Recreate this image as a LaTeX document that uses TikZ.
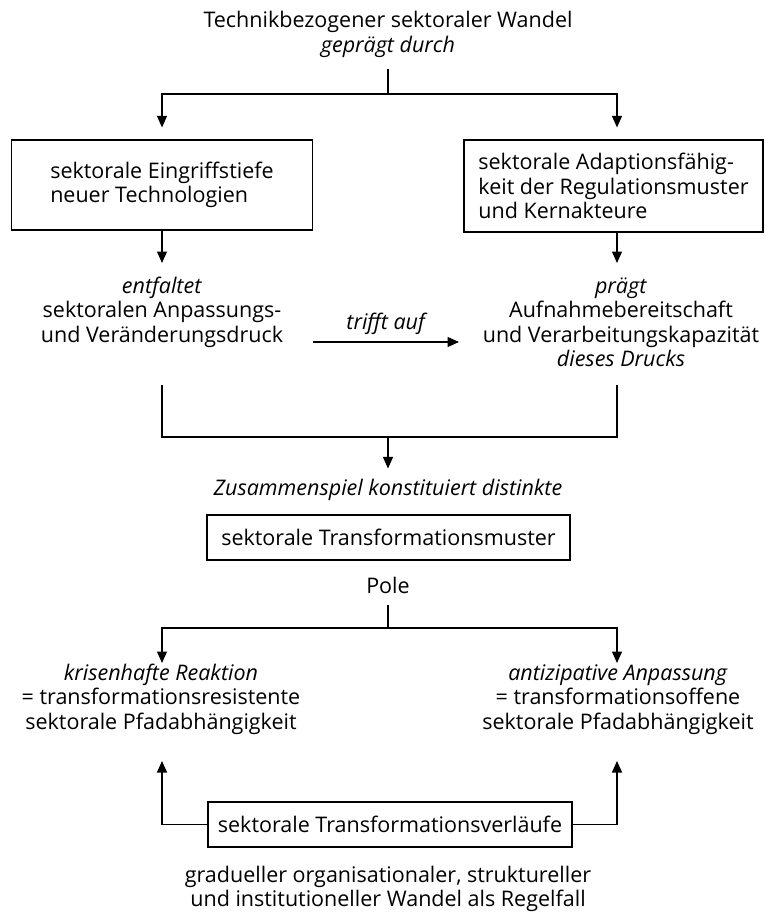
\documentclass[tikz,border=0pt]{standalone}
\usepackage{fontspec}
\setmainfont{Open Sans}
\usetikzlibrary{arrows.meta}
\tikzstyle{box} = [
  draw,
  rectangle,
  line width=1.2pt,
  inner sep=0pt,
  align=left,
]
\tikzstyle{caption} = [
  align=center,
  inner sep=0pt,
  anchor=base,
]
\tikzstyle{link} = [
  line width=1.2pt,
]

\begin{document}
\begin{tikzpicture}[
    x=1pt,
    y=-1pt,
    >={Triangle[length=11.5pt,width=10pt]},
    every node/.style={font=\fontsize{21.5}{24.5}\selectfont},
  ]
  \useasboundingbox (0,0) rectangle (765,912);
  % upper half (caption nodes sit on the baseline of their last line)
  \node[caption]
  (wandel) at (388,52.5) {Technikbezogener sektoraler Wandel\\\textit{geprägt durch}};
  \node[
    box,
    minimum width=301,
    minimum height=90,
  ](eingriff) at (162,185) {sektorale Eingriffstiefe\\neuer Technologien};
  \node[
    box,
    minimum width=299,
    minimum height=92,
  ](adaption) at (613.5,186) {sektorale Adaptionsfähig-\\keit der Regulationsmuster\\und Kernakteure};
  \node[caption]
  (entfaltet) at (162,342) {\textit{entfaltet}\\sektoralen Anpassungs-\\und Veränderungsdruck};
  \node[caption]
  (praegt) at (621,366.5) {\textit{prägt}\\Aufnahmebereitschaft\\und Verarbeitungskapazität\\\textit{dieses Drucks}};
  \node[caption]
  (trifft) at (387,329) {\textit{trifft auf}};
  \coordinate (fork) at (388,94);
  \coordinate (entfaltetTop) at (162,263);
  \coordinate (praegtTop) at (617,263);
  \coordinate (trifftA) at (313,342);
  \coordinate (trifftB) at (459,342);
  \coordinate (entfaltetFoot) at (162,385);
  \coordinate (praegtFoot) at (617,385);
  \coordinate (treffen) at (388,437);
  % lower half
  \node[caption]
  (zusammen) at (388,495) {\textit{Zusammenspiel konstituiert distinkte}};
  \node[
    box,
    minimum width=363,
    minimum height=45,
  ](muster) at (388.5,537.5) {sektorale Transformationsmuster};
  \node[caption]
  (pole) at (388,593) {Pole};
  \node[caption]
  (krise) at (161,729) {\textit{krisenhafte Reaktion}\\= transformationsresistente\\sektorale Pfadabhängigkeit};
  \node[caption]
  (antizip) at (618,729) {\textit{antizipative Anpassung}\\= transformationsoffene\\sektorale Pfadabhängigkeit};
  \node[
    box,
    minimum width=364,
    minimum height=45,
  ](verlauf) at (390,824.5) {sektorale Transformationsverläufe};
  \node[caption]
  (regelfall) at (388,906.5) {gradueller organisationaler, struktureller\\und institutioneller Wandel als Regelfall};
  \coordinate (polfork) at (388,628);
  \coordinate (kriseTop) at (162,663);
  \coordinate (antizipTop) at (617,663);
  \coordinate (kriseFoot) at (162,761);
  \coordinate (antizipFoot) at (617,761);
  % connectors
  \draw[link,shorten <=11pt] (wandel.south) -- (fork);
  \draw[link,->,shorten >=12pt] (fork) -| (eingriff.north);
  \draw[link,->,shorten >=12pt] (fork) -| (praegtTop |- adaption.north);
  \draw[link,->] (eingriff) -- (entfaltetTop);
  \draw[link,->] (adaption.south -| praegtTop) -- (praegtTop);
  \draw[link,->] (trifftA) -- (trifftB);
  \draw[link] (entfaltetFoot) |- (treffen) -| (praegtFoot);
  \draw[link,->,shorten >=10pt] (treffen) -- (zusammen.north);
  \draw[link,shorten <=12pt] (pole.south) -- (polfork);
  \draw[link,->] (polfork) -| (kriseTop);
  \draw[link,->] (polfork) -| (antizipTop);
  \draw[link,->] (verlauf.west) -| (kriseFoot);
  \draw[link,->] (verlauf.east) -| (antizipFoot);
\end{tikzpicture}
\end{document}
